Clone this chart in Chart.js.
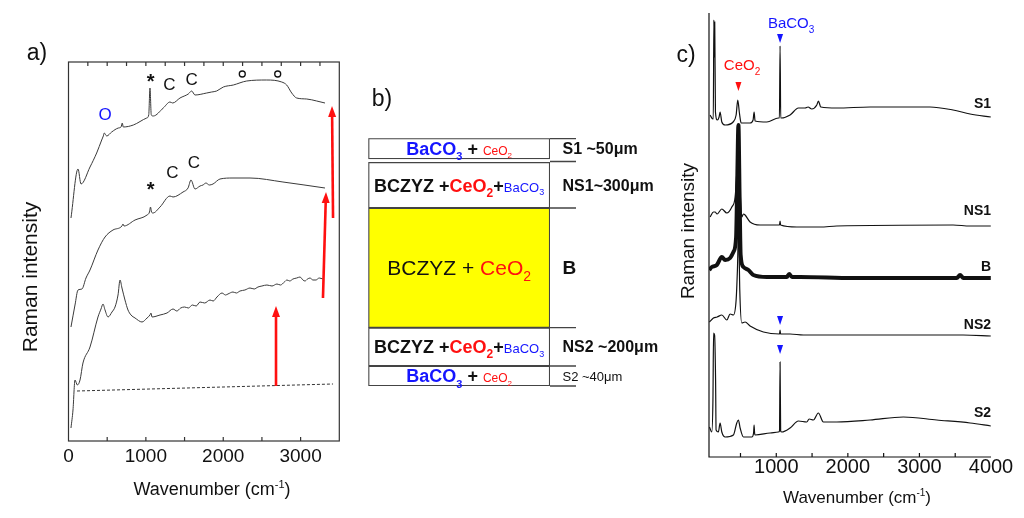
<!DOCTYPE html>
<html><head><meta charset="utf-8">
<script src="https://cdn.jsdelivr.net/npm/chart.js@4.4.1/dist/chart.umd.min.js"></script>
<style>
html,body{margin:0;padding:0;background:#fff;width:1024px;height:518px;overflow:hidden}
canvas{position:absolute;top:0}
</style></head><body>
<canvas id="ca" width="355" height="518" style="left:0"></canvas>
<canvas id="cb" width="310" height="518" style="left:360px"></canvas>
<canvas id="cc" width="354" height="518" style="left:670px"></canvas>
<script>
// ---------- Panel a data (wavenumber, Raman intensity a.u. with offsets) ----------
const aTopX = [32,123,162,278,364,429,450,463,494,558,644,679,695,708,838,1011,1037,1053,1070,1096,1225,1312,1347,1441,1548,1592,1635,1786,1850,1915,2001,2130,2303,2562,2756,2820,2885,2949,3079,3208,3315];
const aTopY = [223,272,257,274,288,301,305,308,305,309,313,314,318,314,316,323,326,353,326,325,333,339,338,343,347,350,346,348,349,350,354,356,360,361,359,356,348,343,342,340,338];
const aMidX = [32,84,123,174,226,278,381,472,575,691,704,717,860,1015,1047,1060,1073,1092,1183,1312,1351,1480,1545,1583,1635,1700,1738,1777,1820,1868,1958,2126,2346,2772,3315];
const aMidY = [114,136,151,152,163,171,191,204,211,215,217,215,221,226,229,234,229,228,234,245,244,249,253,261,252,255,256,258,256,257,262,263,263,259,253];
const aBotX = [32,58,84,114,149,187,278,381,420,446,472,511,562,601,640,666,691,730,769,808,860,950,1015,1053,1066,1079,1183,1273,1351,1400,1450,1500,1550,1600,1650,1700,1760,1829,1870,1919,1984,2030,2061,2126,2170,2217,2280,2346,2400,2449,2500,2565,2630,2694,2740,2790,2824,2860,2901,2950,2992,3030,3056,3090,3121,3160,3198,3240,3288];
const aBotY = [13,31,61,56,61,78,94,124,132,137,131,124,129,134,146,161,153,141,131,126,123,119,123,126,128,124,126,128,132,130,133,134,133,136,135,139,138,141,140,144,148,146,147,149,148,150,151,153,152,154,155,156,155,157,156,159,161,160,162,163,164,161,160,162,163,161,161,163,162];
const aBaseX = [110,3419];
const aBaseY = [50,57];
const aXTicks = [0,1000,2000,3000];

// ---------- Panel b data (layer stack, diagram units from top) ----------
const bLayers = ['S1','NS1','B','NS2','S2'];
const bTop = [0,24,69.7,189.4,227.7];
const bBottom = [20.7,69.7,189.4,227.7,247.7];
const bThickness = ['S1 ~50μm','NS1~300μm','B','NS2 ~200μm','S2 ~40μm'];
const bEdges = [0.3,23.2,69.7,189.4,227.7,247.7];

// ---------- Panel c data ----------
const cS1X = [75,113,120,128,134,140,150,177,201,215,239,285,397,439,462,485,509,634,676,690,704,868,1030,1044,1053,1062,1072,1193,1309,1403,1444,1496,1566,1588,1622,1845,2311,2772,3149,3470,3708,3997];
const cS1Y = [342,338,338,437,400,435,345,337,340,345,335,332,335,342,357,344,334,334,337,345,336,335,339,339,411,339,339,342,349,349,350,348,352,356,350,349,350,350,350,347,343,340];
const cNS1X = [75,122,145,173,239,309,379,425,446,467,488,509,518,541,564,634,774,1045,1053,1060,1287,1612,1845,3470,3708,3997];
const cNS1Y = [240,245,245,243,248,244,250,260,282,317,277,247,240,243,242,235,232,232,236,232,230,230,231,232,231,231];
const cBX = [62,99,169,239,285,355,401,439,455,471,488,502,541,611,680,868,1147,1180,1220,1333,2073,3522,3568,3614,3997];
const cBY = [187,190,192,200,197,199,205,220,277,332,257,202,190,187,182,180,180,183,180,180,179,179,182,179,179];
const cNS2X = [66,122,173,239,309,355,401,439,457,474,490,518,564,634,820,1045,1053,1060,1193,1379,2311,3610,3997];
const cNS2Y = [135,139,140,142,137,143,142,157,187,230,167,134,135,131,125,123,127,123,123,122,122,122,121];
const cS2X = [66,99,115,124,138,152,159,191,215,239,285,401,448,471,495,541,658,683,690,697,704,914,1030,1045,1053,1061,1077,1193,1309,1426,1459,1518,1588,1658,1845,2311,2776,3242,3708,3997];
const cS2Y = [30,25,57,124,122,77,27,25,34,25,20,22,34,37,29,20,20,24,32,24,22,24,25,26,95,26,25,29,36,35,38,37,44,35,35,37,40,37,34,31];
const cXTicks = [1000,2000,3000,4000];
const cSeriesNames = ['S1','NS1','B','NS2','S2'];

// ---------- helpers ----------
const FF = 'Arial, "Liberation Sans", Helvetica, sans-serif';
const RED = '#ff1010', BLUE = '#1515ff', INK = '#111';
function fnt(s, b){ return (b ? 'bold ' : '') + s + 'px ' + FF; }
function rich(ctx, x, y, parts, align){
  ctx.save(); ctx.textBaseline = 'alphabetic'; ctx.textAlign = 'left';
  let w = 0; const ws = [];
  parts.forEach(p => { ctx.font = fnt(p[2], p[3]); const m = ctx.measureText(p[0]).width; ws.push(m); w += m; });
  let cx = align === 'left' ? x : align === 'right' ? x - w : x - w / 2;
  const main = Math.max(...parts.map(p => p[2]));
  const base = y + main * 0.36;
  let prev = main;
  parts.forEach((p, i) => {
    ctx.font = fnt(p[2], p[3]); ctx.fillStyle = p[1];
    let yy = base;
    if (p[4] === 'sub') yy += prev * 0.28; else if (p[4] === 'sup') yy -= prev * 0.42; else prev = p[2];
    ctx.fillText(p[0], cx, yy); cx += ws[i];
  });
  ctx.restore();
}
function vtext(ctx, x, y, txt, size){
  ctx.save(); ctx.translate(x, y); ctx.rotate(-Math.PI / 2);
  ctx.font = fnt(size); ctx.fillStyle = INK; ctx.textAlign = 'center'; ctx.textBaseline = 'middle';
  ctx.fillText(txt, 0, 0); ctx.restore();
}
function arrow(ctx, x0, y0, x1, y1, col){
  const ang = Math.atan2(y1 - y0, x1 - x0), hl = 11, hw = 4;
  const bx = x1 - hl * Math.cos(ang), by = y1 - hl * Math.sin(ang);
  ctx.save(); ctx.strokeStyle = col; ctx.fillStyle = col; ctx.lineWidth = 2.6;
  ctx.beginPath(); ctx.moveTo(x0, y0); ctx.lineTo(bx, by); ctx.stroke();
  ctx.beginPath(); ctx.moveTo(x1, y1);
  ctx.lineTo(bx + hw * Math.sin(ang), by - hw * Math.cos(ang));
  ctx.lineTo(bx - hw * Math.sin(ang), by + hw * Math.cos(ang));
  ctx.closePath(); ctx.fill(); ctx.restore();
}
function tri(ctx, x, y, col){
  ctx.save(); ctx.fillStyle = col; ctx.beginPath();
  ctx.moveTo(x - 3, y - 5); ctx.lineTo(x + 3, y - 5); ctx.lineTo(x, y + 4); ctx.closePath(); ctx.fill(); ctx.restore();
}
function ds(xs, ys, col, w){
  return { data: xs.map((x, i) => ({ x: x, y: ys[i] })), borderColor: col, borderWidth: w,
    pointRadius: 0, fill: false, cubicInterpolationMode: 'monotone', tension: 0.3 };
}
const WN = ['Wavenumber (cm', INK, 18], SUP = ['-1', INK, 11, false, 'sup'], CL = [')', INK, 18];

// ---------- annotation lists (data units) ----------
const aArrows = [[3419,223,3406,335],[3289,143,3328,249],[2682,55,2682,135]];
const aLabels = [[1062,364,'*'],[1303,356,'C'],[1592,361,'C'],[1062,256,'*'],[1342,268,'C'],[1622,278,'C']];
const aRings = [[2246,367],[2704,367]];
const aBottomTicks = [500,1000,1500,2000,2500,3000];
const aTopTicks = [250,500,750,1000,1250,1500,1750,2000,2250,2500,2750,3000,3250];
const cTicks = [500,1000,1500,2000,2500,3000,3500];

// ---------- Panel a ----------
const decoA = { id: 'decoA', afterDraw(ch){
  const c = ch.ctx, A = ch.chartArea, X = ch.scales.x, Y = ch.scales.y;
  c.save();
  c.strokeStyle = '#333'; c.lineWidth = 1.2;
  c.strokeRect(A.left, A.top, A.right - A.left, A.bottom - A.top);
  c.beginPath();
  aBottomTicks.forEach(v => { const p = X.getPixelForValue(v); c.moveTo(p, A.bottom); c.lineTo(p, A.bottom - 4); });
  aTopTicks.forEach(v => { const p = X.getPixelForValue(v); c.moveTo(p, A.top); c.lineTo(p, A.top + 4); });
  c.stroke();
  aArrows.forEach(a => arrow(c, X.getPixelForValue(a[0]), Y.getPixelForValue(a[1]), X.getPixelForValue(a[2]), Y.getPixelForValue(a[3]), RED));
  c.textAlign = 'center'; c.textBaseline = 'middle'; c.fillStyle = INK;
  aLabels.forEach(l => {
    const star = l[2] === '*';
    c.font = star ? fnt(20, true) : fnt(17);
    c.fillText(l[2], X.getPixelForValue(l[0]), Y.getPixelForValue(l[1]) + (star ? 5 : 0));
  });
  c.fillStyle = BLUE; c.font = fnt(17);
  c.fillText('O', X.getPixelForValue(472), Y.getPixelForValue(326));
  c.strokeStyle = INK; c.lineWidth = 1.3;
  aRings.forEach(r => { c.beginPath(); c.arc(X.getPixelForValue(r[0]), Y.getPixelForValue(r[1]), 3, 0, 2 * Math.PI); c.stroke(); });
  vtext(c, 31, 277, 'Raman intensity', 21);
  rich(c, 212, 489, [WN, SUP, CL], 'center');
  c.font = fnt(23); c.fillStyle = INK; c.textAlign = 'center'; c.textBaseline = 'middle';
  c.fillText('a)', 37, 54);
  c.restore();
}};
new Chart(document.getElementById('ca'), {
  type: 'line',
  data: { datasets: [ ds(aTopX, aTopY, '#3a3a3a', 1), ds(aMidX, aMidY, '#3a3a3a', 1), ds(aBotX, aBotY, '#3a3a3a', 1),
    Object.assign(ds(aBaseX, aBaseY, '#333', 1), { borderDash: [3, 2], tension: 0, cubicInterpolationMode: 'default' }) ] },
  options: {
    responsive: false, animation: false,
    layout: { padding: { left: 68.5, top: 62, right: 15.7, bottom: 0 } },
    scales: {
      x: { type: 'linear', min: 0, max: 3500, grid: { display: false, drawTicks: false }, border: { display: false },
        afterBuildTicks: s => { s.ticks = aXTicks.map(v => ({ value: v })); },
        afterFit: s => { s.height = 77; },
        ticks: { font: { family: FF, size: 19, lineHeight: 1 }, color: INK, padding: 6.5, maxRotation: 0, autoSkip: false, callback: v => String(v) } },
      y: { display: false, min: 0, max: 379 }
    },
    plugins: { legend: { display: false }, tooltip: { enabled: false } }
  },
  plugins: [decoA]
});

// ---------- Panel b ----------
const bFill = ['#ffffff', '#ffffff', '#ffff00', '#ffffff', '#ffffff'];
const sRow = [['BaCO', BLUE, 18, true], ['3', BLUE, 11, true, 'sub'], [' + ', INK, 18, true], ['CeO', RED, 12, false], ['2', RED, 8, false, 'sub']];
const nsRow = [['BCZYZ +', INK, 18, true], ['CeO', RED, 18, true], ['2', RED, 12, true, 'sub'], ['+', INK, 18, true], ['BaCO', BLUE, 13, false], ['3', BLUE, 9, false, 'sub']];
const bRow = [['BCZYZ + ', INK, 21, false], ['CeO', RED, 21, false], ['2', RED, 14, false, 'sub']];
const bRows = [sRow, nsRow, bRow, nsRow, sRow];
const bRight = [[16, true], [16, true], [19, true], [16, true], [13, false]];
const decoB = { id: 'decoB', afterDraw(ch){
  const c = ch.ctx, A = ch.chartArea, Y = ch.scales.y;
  c.save();
  c.strokeStyle = '#444'; c.lineWidth = 1.3; c.beginPath();
  bEdges.forEach(v => { const p = Y.getPixelForValue(v); c.moveTo(A.right, p); c.lineTo(A.right + 26, p); });
  c.stroke();
  bLayers.forEach((n, i) => {
    const el = ch.getDatasetMeta(i).data[0];
    const cy = (el.y + el.base) / 2;
    rich(c, (A.left + A.right) / 2, cy, bRows[i], 'center');
    c.font = fnt(bRight[i][0], bRight[i][1]); c.fillStyle = INK; c.textAlign = 'left'; c.textBaseline = 'middle';
    c.fillText(bThickness[i], A.right + 12.5, cy + 1);
  });
  c.font = fnt(23); c.textAlign = 'center'; c.fillText('b)', 22, 100);
  c.restore();
}};
new Chart(document.getElementById('cb'), {
  type: 'bar',
  data: { labels: ['layers'], datasets: bLayers.map((n, i) => ({ label: n, data: [[bTop[i], bBottom[i]]],
    backgroundColor: bFill[i], borderColor: '#444', borderWidth: 1.4, borderSkipped: false, grouped: false,
    barPercentage: 1, categoryPercentage: 1 })) },
  options: {
    responsive: false, animation: false,
    layout: { padding: { left: 8.3, right: 120, top: 138.3, bottom: 132 } },
    scales: { x: { display: false }, y: { display: false, min: 0, max: 247.7, reverse: true } },
    plugins: { legend: { display: false }, tooltip: { enabled: false } }
  },
  plugins: [decoB]
});

// ---------- Panel c ----------
const cNameY = [353, 246, 190, 132, 44];
const decoC = { id: 'decoC', afterDraw(ch){
  const c = ch.ctx, A = ch.chartArea, X = ch.scales.x, Y = ch.scales.y;
  c.save();
  c.strokeStyle = INK; c.lineWidth = 1.2; c.beginPath();
  c.moveTo(A.left, A.top); c.lineTo(A.left, A.bottom); c.lineTo(A.right, A.bottom);
  cTicks.forEach(v => { const p = X.getPixelForValue(v); c.moveTo(p, A.bottom); c.lineTo(p, A.bottom - 4); });
  c.stroke();
  tri(c, X.getPixelForValue(471), Y.getPixelForValue(370), RED);
  tri(c, X.getPixelForValue(1053), Y.getPixelForValue(418), BLUE);
  tri(c, X.getPixelForValue(1053), Y.getPixelForValue(136), BLUE);
  tri(c, X.getPixelForValue(1053), Y.getPixelForValue(107), BLUE);
  rich(c, X.getPixelForValue(522), Y.getPixelForValue(392), [['CeO', RED, 15], ['2', RED, 10, false, 'sub']], 'center');
  rich(c, X.getPixelForValue(1207), Y.getPixelForValue(434), [['BaCO', BLUE, 15], ['3', BLUE, 10, false, 'sub']], 'center');
  c.font = fnt(14, true); c.fillStyle = INK; c.textAlign = 'right'; c.textBaseline = 'middle';
  cSeriesNames.forEach((n, i) => c.fillText(n, X.getPixelForValue(4000), Y.getPixelForValue(cNameY[i])));
  vtext(c, 19, 231, 'Raman intensity', 19);
  rich(c, 187, 497, [['Wavenumber (cm', INK, 17], ['-1', INK, 10, false, 'sup'], [')', INK, 17]], 'center');
  c.font = fnt(23); c.fillStyle = INK; c.textAlign = 'center'; c.fillText('c)', 16, 56);
  c.restore();
}};
new Chart(document.getElementById('cc'), {
  type: 'line',
  data: { datasets: [ ds(cS1X, cS1Y, INK, 1.2), ds(cNS1X, cNS1Y, INK, 1.2), ds(cBX, cBY, INK, 4), ds(cNS2X, cNS2Y, INK, 1.2), ds(cS2X, cS2Y, INK, 1.2) ] },
  options: {
    responsive: false, animation: false,
    layout: { padding: { left: 39, top: 13, right: 33, bottom: 0 } },
    scales: {
      x: { type: 'linear', min: 60, max: 4000, grid: { display: false, drawTicks: false }, border: { display: false },
        afterBuildTicks: s => { s.ticks = cXTicks.map(v => ({ value: v })); },
        afterFit: s => { s.height = 61; },
        ticks: { font: { family: FF, size: 20, lineHeight: 1 }, color: INK, padding: 0, maxRotation: 0, autoSkip: false, callback: v => String(v) } },
      y: { display: false, min: 0, max: 444 }
    },
    plugins: { legend: { display: false }, tooltip: { enabled: false } }
  },
  plugins: [decoC]
});
</script>
</body></html>
